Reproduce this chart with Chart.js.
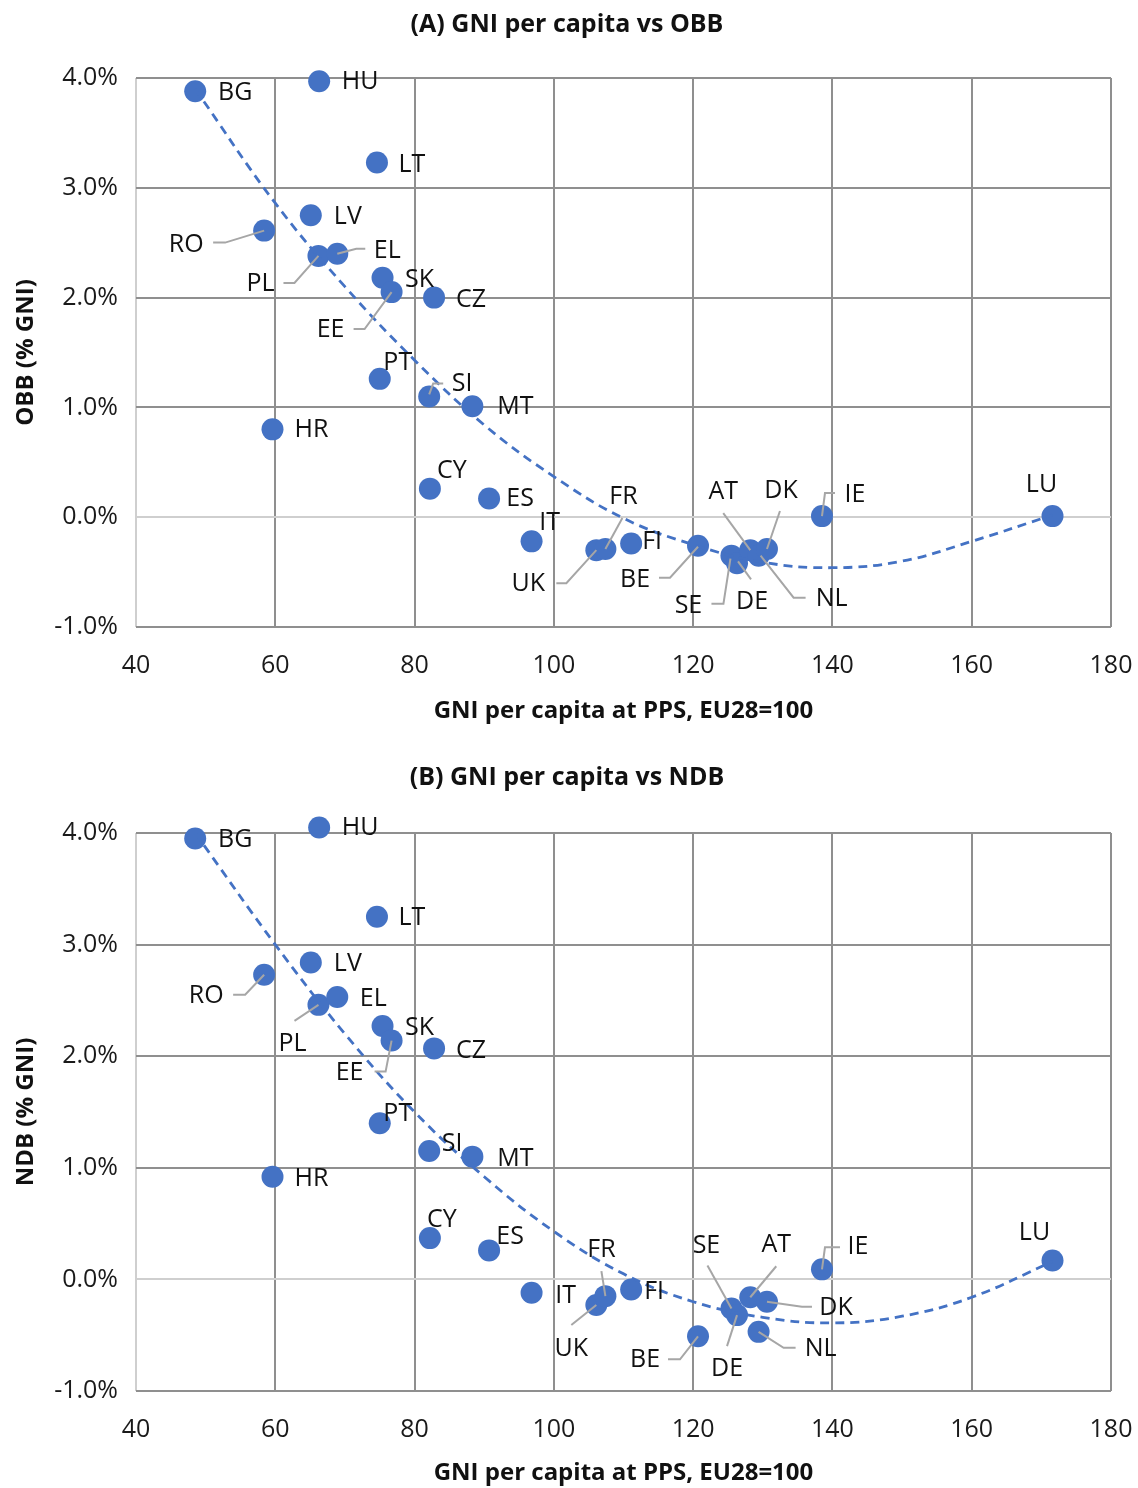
<!DOCTYPE html>
<html>
<head>
<meta charset="utf-8">
<script src="https://cdn.jsdelivr.net/npm/chart.js@4/dist/chart.umd.min.js"></script>
<style>
  html, body { margin: 0; padding: 0; background: #fff; }
  .wrap { position: absolute; left: 0; width: 1138px; height: 744px; }
</style>
</head>
<body>
<div class="wrap" style="top:0"><canvas id="chartA"></canvas></div>
<div class="wrap" style="top:744px"><canvas id="chartB"></canvas></div>
<script>
// countries, in the same order for every array below
const countries = ['BG','HU','LT','LV','RO','PL','EL','SK','EE','CZ','PT','SI','MT','HR',
                   'CY','ES','IT','UK','FR','FI','BE','SE','DE','AT','NL','DK','IE','LU'];
// GNI per capita at PPS, EU28=100
const gni = [48.5, 66.3, 74.6, 65.1, 58.4, 66.2, 68.9, 75.4, 76.7, 82.8, 75.0, 82.1, 88.3, 59.6,
             82.2, 90.7, 96.8, 106.1, 107.4, 111.1, 120.7, 125.5, 126.3, 128.2, 129.4, 130.6, 138.5, 171.6];
// OBB (% GNI)
const obb = [3.88, 3.97, 3.23, 2.75, 2.61, 2.38, 2.40, 2.18, 2.05, 2.00, 1.26, 1.10, 1.01, 0.80,
             0.26, 0.17, -0.22, -0.30, -0.29, -0.24, -0.26, -0.35, -0.42, -0.30, -0.35, -0.29, 0.01, 0.01];
// NDB (% GNI)
const ndb = [3.95, 4.05, 3.25, 2.84, 2.73, 2.46, 2.53, 2.27, 2.14, 2.07, 1.40, 1.15, 1.10, 0.92,
             0.37, 0.26, -0.12, -0.23, -0.15, -0.09, -0.51, -0.26, -0.32, -0.16, -0.47, -0.20, 0.09, 0.17];

// trend lines
const trendX = [48.5, 60, 70, 80, 90, 100, 110, 120, 130, 140, 150, 160, 171.6];
const trendObb = [3.90, 2.86, 2.10, 1.43, 0.84, 0.37, -0.01, -0.25, -0.41, -0.46, -0.40, -0.22, 0.02];
const trendNdb = [4.00, 3.00, 2.20, 1.50, 0.92, 0.43, 0.05, -0.20, -0.34, -0.39, -0.33, -0.16, 0.16];

// axis ticks
const xTicks = [40, 60, 80, 100, 120, 140, 160, 180];
const yTicks = [-1, 0, 1, 2, 3, 4];

// label placement (pixel offsets from the marker) and leader lines
const labelPosA = {
  BG:[40,2], HU:[41,1], LT:[35,2], LV:[37,2], RO:[-78,14], PL:[-58,28], EL:[50,-3], SK:[37,2],
  EE:[-61,38], CZ:[37,2], PT:[18,-16], SI:[33,-13], MT:[43,1], HR:[39,1], CY:[22,-18], ES:[31,0],
  IT:[18,-18], UK:[-68,34], FR:[18,-52], FI:[21,-2], BE:[-63,34], SE:[-43,50], DE:[15,39],
  AT:[-27,-58], NL:[73,43], DK:[14,-58], IE:[33,-21], LU:[-11,-31]
};
const leadersA = {
  RO:[[-51,12],[-39,12],[0,0]], PL:[[-35,27],[-24,27],[0,0]], EL:[[0,0],[19,-5],[28,-5]],
  EE:[[-38,37],[-27,37],[0,0]], SI:[[0,-2],[4,-13],[14,-13]], UK:[[-40,33],[-30,33],[0,0]],
  FR:[[0,0],[17,-31]], BE:[[-39,32],[-28,32],[0,1]], SE:[[-20,48],[-8,48],[-1,3]],
  DE:[[14,16],[1,-2]], AT:[[-27,-37],[0,0]], NL:[[47,42],[35,42],[2,0]], DK:[[13,-38],[0,0]],
  IE:[[0,0],[3,-23],[13,-23]]
};
const labelPosB = {
  BG:[40,1], HU:[41,0], LT:[35,1], LV:[37,1], RO:[-58,21], PL:[-26,39], EL:[36,2], SK:[37,2],
  EE:[-42,32], CZ:[37,2], PT:[18,-9], SI:[23,-7], MT:[43,2], HR:[39,2], CY:[12,-18], ES:[21,-14],
  IT:[34,3], UK:[-25,44], FR:[-4,-46], FI:[23,2], BE:[-53,24], SE:[-25,-63], DE:[-10,54],
  AT:[26,-52], NL:[62,17], DK:[69,6], IE:[36,-22], LU:[-18,-28]
};
const leadersB = {
  RO:[[-31,20],[-19,20],[0,0]], PL:[[-24,16],[0,0]], EE:[[-17,31],[-6,31],[0,0]],
  UK:[[-25,20],[0,0]], FR:[[-4,-25],[0,0]], BE:[[-30,23],[-18,23],[0,0]], SE:[[-24,-43],[0,0]],
  DE:[[-10,31],[0,0]], AT:[[26,-31],[0,0]], DK:[[0,0],[35,5],[45,5]], NL:[[0,0],[25,16],[37,16]],
  IE:[[0,0],[3,-22],[18,-22]]
};

const BLUE = '#4472C4';
const FONT = '"Open Sans", "Liberation Sans", sans-serif';

const pointLabels = {
  id: 'pointLabels',
  afterDatasetsDraw(chart, args, opts) {
    const ctx = chart.ctx;
    const meta = chart.getDatasetMeta(1);
    ctx.save();
    meta.data.forEach((pt, i) => {
      const lead = opts.leaders[countries[i]];
      if (!lead) return;
      ctx.beginPath();
      ctx.strokeStyle = '#a6a6a6';
      ctx.lineWidth = 2;
      lead.forEach((p, j) => {
        if (j === 0) ctx.moveTo(pt.x + p[0], pt.y + p[1]);
        else ctx.lineTo(pt.x + p[0], pt.y + p[1]);
      });
      ctx.stroke();
    });
    ctx.fillStyle = '#111';
    ctx.font = '25px ' + FONT;
    ctx.textAlign = 'center';
    ctx.textBaseline = 'middle';
    meta.data.forEach((pt, i) => {
      const name = countries[i];
      const off = opts.pos[name] || [30, 0];
      ctx.fillText(name, pt.x + off[0], pt.y + off[1]);
    });
    ctx.restore();
  }
};

const chartTitle = {
  id: 'chartTitle',
  afterDraw(chart, args, opts) {
    const ctx = chart.ctx;
    ctx.save();
    ctx.fillStyle = '#111';
    ctx.font = 'bold 25px ' + FONT;
    ctx.textAlign = 'center';
    ctx.textBaseline = 'middle';
    ctx.fillText(opts.text, opts.x, opts.y);
    ctx.restore();
  }
};

function makeChart(id, values, trend, yTitle, title, cfg) {
  const points = gni.map((x, i) => ({ x: x, y: values[i] }));
  const trendPts = trendX.map((x, i) => ({ x: x, y: trend[i] }));
  return new Chart(document.getElementById(id), {
    type: 'scatter',
    data: {
      datasets: [
        {
          type: 'line',
          data: trendPts,
          borderColor: BLUE,
          borderWidth: 2.8,
          borderDash: [9, 6],
          pointRadius: 0,
          tension: 0.4,
          fill: false,
          order: 0
        },
        {
          data: points,
          backgroundColor: BLUE,
          borderWidth: 0,
          pointRadius: 11,
          pointHoverRadius: 11,
          clip: false,
          order: 1
        }
      ]
    },
    options: {
      responsive: true,
      maintainAspectRatio: false,
      animation: false,
      events: [],
      layout: { padding: { left: 0, right: 27, top: cfg.top, bottom: 0 } },
      plugins: {
        legend: { display: false },
        tooltip: { enabled: false },
        chartTitle: { text: title, x: 567, y: cfg.titleY },
        pointLabels: { pos: cfg.pos, leaders: cfg.leaders }
      },
      scales: {
        x: {
          type: 'linear',
          min: xTicks[0],
          max: xTicks[xTicks.length - 1],
          afterBuildTicks: s => { s.ticks = xTicks.map(v => ({ value: v })); },
          afterFit: s => { s.height = cfg.xHeight; s.paddingLeft = 0; s.paddingRight = 0; },
          border: { display: false },
          grid: {
            drawTicks: false,
            lineWidth: 2,
            color: c => (c.tick && c.tick.value === 40) ? '#cfcfcf' : '#8f8f8f'
          },
          ticks: { color: '#1a1a1a', font: { family: FONT, size: 25 }, padding: 24 },
          title: {
            display: true,
            text: 'GNI per capita at PPS, EU28=100',
            color: '#111',
            font: { family: FONT, size: 24, weight: 'bold' },
            padding: { top: 0, bottom: cfg.xTitlePad }
          }
        },
        y: {
          type: 'linear',
          min: yTicks[0],
          max: yTicks[yTicks.length - 1],
          afterBuildTicks: s => { s.ticks = yTicks.map(v => ({ value: v })); },
          afterFit: s => { s.width = 136; },
          border: { display: false },
          grid: {
            drawTicks: false,
            lineWidth: 2,
            color: c => (c.tick && c.tick.value === 0) ? '#cfcfcf' : '#8f8f8f'
          },
          ticks: {
            color: '#1a1a1a',
            font: { family: FONT, size: 25 },
            padding: 18,
            callback: v => v.toFixed(1) + '%'
          },
          title: {
            display: true,
            text: yTitle,
            color: '#111',
            font: { family: FONT, size: 24, weight: 'bold' },
            padding: { top: 12, bottom: 0 }
          }
        }
      }
    },
    plugins: [pointLabels, chartTitle]
  });
}

makeChart('chartA', obb, trendObb, 'OBB (% GNI)', '(A) GNI per capita vs OBB',
  { top: 78, titleY: 25, xHeight: 117, xTitlePad: 18, pos: labelPosA, leaders: leadersA });
makeChart('chartB', ndb, trendNdb, 'NDB (% GNI)', '(B) GNI per capita vs NDB',
  { top: 89, titleY: 34, xHeight: 97, xTitlePad: 0, pos: labelPosB, leaders: leadersB });
</script>
</body>
</html>
